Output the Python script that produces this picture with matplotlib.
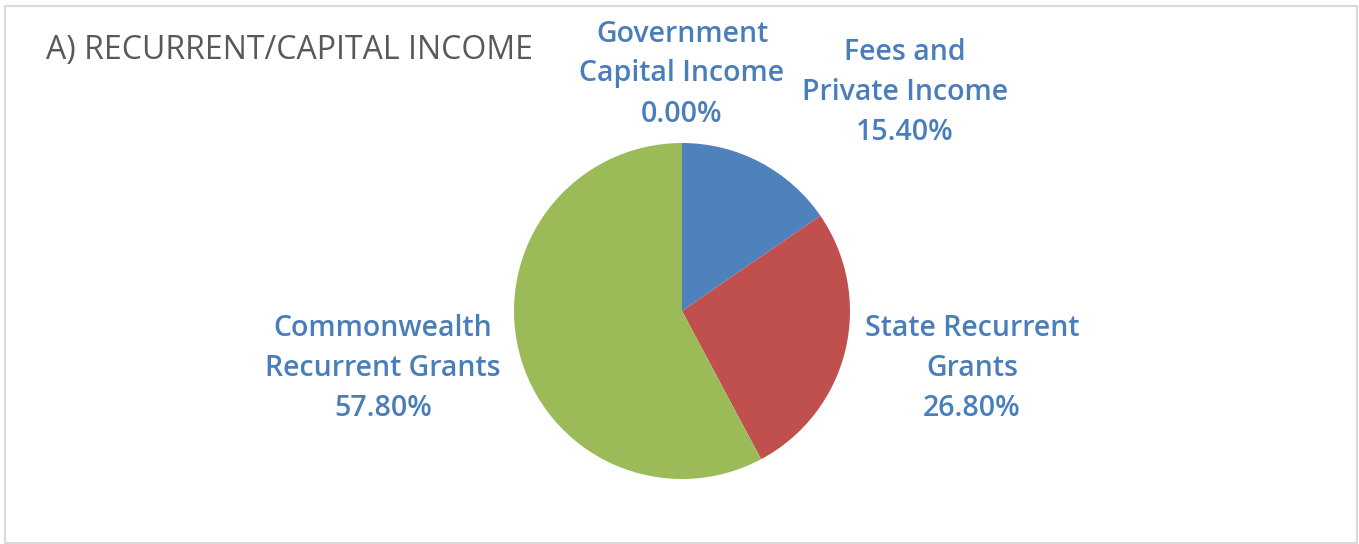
import matplotlib.pyplot as plt
from matplotlib.patches import Rectangle

# data
categories = ['Fees and\nPrivate Income', 'State Recurrent\nGrants',
              'Commonwealth\nRecurrent Grants', 'Government\nCapital Income']
shares = [15.40, 26.80, 57.80, 0.00]
slice_colors = ['#4F81BD', '#C0504D', '#9BBB59', '#8064A2']

# label anchor positions (pixels, y up) for each slice
label_pos = [(905, 452), (972, 176), (383, 175), (682, 470)]

W, H = 1359, 544
fig = plt.figure(figsize=(W / 100, H / 100), dpi=100)
ax = fig.add_axes([0, 0, 1, 1])

# chart frame
ax.add_patch(Rectangle((5, 1), W - 7, H - 7, fill=False, edgecolor='#D9D9D9', linewidth=1.5))

ax.pie(shares, colors=slice_colors, startangle=90, counterclock=False,
       center=(682, 233), radius=168, wedgeprops=dict(linewidth=0),
       frame=True)
ax.set_xlim(0, W)
ax.set_ylim(0, H)
ax.set_aspect('equal')
ax.axis('off')

for name, val, (x, y) in zip(categories, shares, label_pos):
    ax.text(x, y, f'{name}\n{val:.2f}%', ha='center', va='center',
            fontsize=20.5, color='#4A7EBB', family='Open Sans', weight='semibold',
            linespacing=1.5)

ax.text(46, 493, 'A) RECURRENT/CAPITAL INCOME', ha='left', va='center',
        fontsize=23, color='#595959', family='Open Sans')

fig.savefig('out.png', dpi=100)
